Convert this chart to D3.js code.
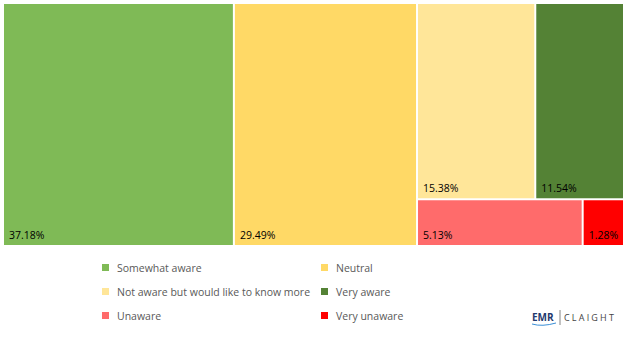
<!DOCTYPE html>
<html>
<head>
<meta charset="utf-8">
<script src="https://cdn.jsdelivr.net/npm/d3@7"></script>
<style>
  body { margin: 0; background: #fff; }
  svg text { font-family: "Open Sans", "Noto Sans", sans-serif; }
</style>
</head>
<body>
<div id="chart"></div>
<script>
// awareness categories and their shares (%)
var categories = ["Somewhat aware", "Neutral", "Not aware but would like to know more", "Very aware", "Unaware", "Very unaware"];
var values = [37.18, 29.49, 15.38, 11.54, 5.13, 1.28];
var colors = ["#7fba56", "#ffd966", "#ffe699", "#548235", "#ff6b6b", "#ff0000"];
// how many tiles go in each strip of the treemap (matches the original layout)
var stripSizes = [1, 1, 2, 2];

var width = 628, height = 339;

var svg = d3.select("#chart").append("svg")
    .attr("width", width)
    .attr("height", height);

// build the hierarchy for the treemap
var root = d3.hierarchy({children: categories.map(function(c, i) { return {name: c, value: values[i], color: colors[i]}; })})
    .sum(function(d) { return d.value || 0; });

// strip tiling: each strip is cut off the longer side of what is left,
// and the tiles in a strip are laid along the strip's longer side
function stripTile(parent, x0, y0, x1, y1) {
    var nodes = parent.children, total = parent.value, i = 0, s = 0;
    while (i < nodes.length) {
        var n = stripSizes[s++] || nodes.length;
        var row = nodes.slice(i, i + n);
        i += n;
        var v = d3.sum(row, function(d) { return d.value; });
        var strip = {children: row, value: v};
        var dx = x1 - x0, dy = y1 - y0, r;
        if (dx >= dy) {
            var w = total ? dx * v / total : 0;
            r = [x0, y0, x0 + w, y1];
            x0 += w;
        } else {
            var h = total ? dy * v / total : 0;
            r = [x0, y0, x1, y0 + h];
            y0 += h;
        }
        if (r[2] - r[0] >= r[3] - r[1]) d3.treemapDice(strip, r[0], r[1], r[2], r[3]);
        else d3.treemapSlice(strip, r[0], r[1], r[2], r[3]);
        total -= v;
    }
}

d3.treemap()
    .tile(stripTile)
    .size([619, 241])
    .paddingInner(2)
    (root);

var g = svg.append("g").attr("transform", "translate(4,4)");

var cell = g.selectAll("g.cell")
    .data(root.leaves())
    .enter().append("g")
    .attr("class", "cell")
    .attr("transform", function(d) { return "translate(" + d.x0 + "," + d.y0 + ")"; });

cell.append("rect")
    .attr("width", function(d) { return d.x1 - d.x0; })
    .attr("height", function(d) { return d.y1 - d.y0; })
    .attr("fill", function(d) { return d.data.color; });

cell.append("text")
    .attr("x", 5)
    .attr("y", function(d) { return d.y1 - d.y0 - 6; })
    .attr("font-size", 10.5)
    .attr("fill", "#000")
    .text(function(d) { return d.data.value.toFixed(2) + "%"; });

// legend: two columns, three rows
var legend = svg.append("g");
var item = legend.selectAll("g")
    .data(categories)
    .enter().append("g")
    .attr("transform", function(d, i) {
        var col = i % 2, row = Math.floor(i / 2);
        return "translate(" + (102 + col * 219) + "," + (268 + row * 24) + ")";
    });

item.append("rect")
    .attr("x", 0).attr("y", -4)
    .attr("width", 7).attr("height", 7)
    .attr("fill", function(d, i) { return colors[i]; });

item.append("text")
    .attr("x", 15)
    .attr("dy", "0.35em")
    .attr("font-size", 10.5)
    .attr("fill", "#595959")
    .text(function(d) { return d; });

// watermark logo
var logo = svg.append("g").attr("transform", "translate(532,321)");
logo.append("text")
    .attr("font-size", 10).attr("font-weight", "bold")
    .attr("fill", "#1f3a6e")
    .attr("font-family", "Arial, sans-serif")
    .text("EMR");
logo.append("path")
    .attr("d", "M0,3 Q10,6 24,2")
    .attr("stroke", "#3b8fd6").attr("fill", "none").attr("stroke-width", 1);
logo.append("line")
    .attr("x1", 28).attr("x2", 28).attr("y1", -11).attr("y2", 4)
    .attr("stroke", "#666").attr("stroke-width", 0.8);
logo.append("text")
    .attr("x", 32)
    .attr("font-size", 9)
    .attr("letter-spacing", "2.2")
    .attr("fill", "#444")
    .attr("font-family", "Arial, sans-serif")
    .text("CLAIGHT");
</script>
</body>
</html>
